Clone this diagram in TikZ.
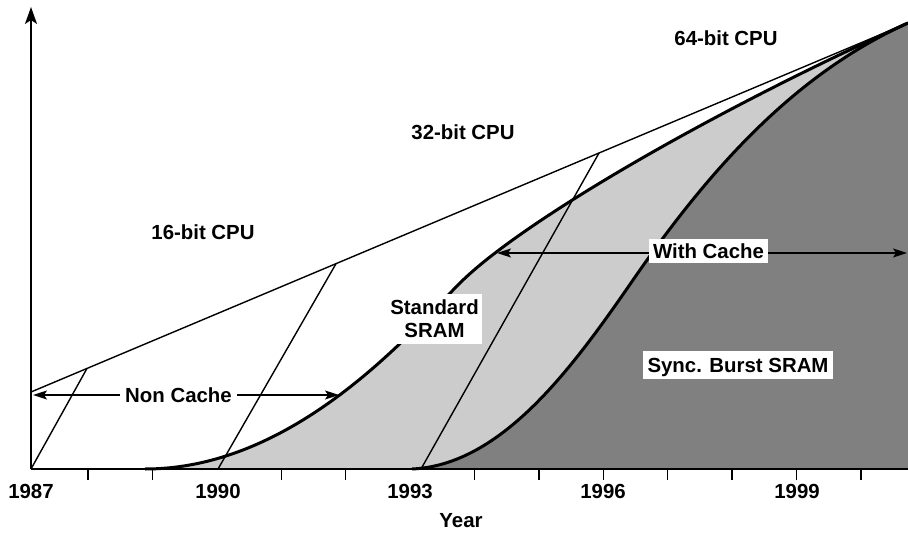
\documentclass[tikz,border=0pt]{standalone}
\usepackage{fontspec}
\setmainfont{Liberation Sans}
\usetikzlibrary{arrows.meta}
\definecolor{stdgray}{gray}{0.8}
\definecolor{syncgray}{gray}{0.5}
\begin{document}
\begin{tikzpicture}[x=0.5pt,y=-0.5pt,
  lbl/.style={font=\fontsize{10.2}{12}\selectfont\bfseries, inner sep=0pt},
  whitebox/.style={lbl, fill=white, text height=7.3pt, text depth=0pt},
  thinline/.style={line width=0.7pt},
  thickcurve/.style={line width=1.5pt},
  axisline/.style={line width=1pt},
  tickmark/.style={line width=0.7pt},
  span/.style={line width=0.7pt,
    {Stealth[length=7pt,width=4.5pt,inset=1.5pt]}-{Stealth[length=7pt,width=4.5pt,inset=1.5pt]}},
]
\useasboundingbox (0,0) rectangle (908,533);

% light grey area below the Standard SRAM curve
\fill[stdgray] (145,469) .. controls (295,469) and (410,333) .. (460,283)
  .. controls (520,223) and (708,113) .. (908,23) -- (908,469) -- cycle;

% CPU generation envelope and its dividing lines
\coordinate (e0) at (31,392);
\coordinate (e1) at (908,23);
\draw[thinline] (e0) -- (e1);
\coordinate (s1b) at (31,469);  \coordinate (s1t) at (87,368.4);
\coordinate (s2b) at (218,469); \coordinate (s2t) at (336,263.7);
\coordinate (s3b) at (421,469); \coordinate (s3t) at (599,153);
\draw[thinline] (s1b) -- (s1t);
\draw[thinline] (s2b) -- (s2t);
\draw[thinline] (s3b) -- (s3t);

% dark grey area below the Sync. Burst SRAM curve
\fill[syncgray] (412,469) .. controls (502,465) and (573,367) .. (633,280)
  .. controls (713,164) and (798,72.5) .. (908,23) -- (908,469) -- cycle;

% the two SRAM curves
\draw[thickcurve] (145,469) .. controls (295,469) and (410,333) .. (460,283)
  .. controls (520,223) and (708,113) .. (908,23);
\draw[thickcurve] (412,469) .. controls (502,465) and (573,367) .. (633,280)
  .. controls (713,164) and (798,72.5) .. (908,23);

% axes
\coordinate (o) at (31,469);
\coordinate (ytop) at (31,7);
\coordinate (xend) at (908,469);
\draw[axisline] (o) -- (xend);
\draw[axisline, -{Stealth[length=8.5pt,width=6pt,inset=2pt]}] (o) -- (ytop);

% year ticks
\foreach \tx in {88,152.4,281.2,345.6,474.4,538.8,603.2,667.6,732,796.4,860.8}
  \draw[tickmark] (\tx,469) -- (\tx,480);

% year labels
\node[lbl, anchor=base] (y1987) at (31,498) {1987};
\node[lbl, anchor=base] (y1990) at (218,498) {1990};
\node[lbl, anchor=base] (y1993) at (410,498) {1993};
\node[lbl, anchor=base] (y1996) at (603,498) {1996};
\node[lbl, anchor=base] (y1999) at (797,498) {1999};
\node[lbl, anchor=base] (xtitle) at (461,527) {Year};

% CPU generation labels
\node[lbl, anchor=base] (c16) at (203,240) {16-bit CPU};
\node[lbl, anchor=base] (c32) at (463,140) {32-bit CPU};
\node[lbl, anchor=base] (c64) at (726,46) {64-bit CPU};

% spans
\coordinate (nc0) at (33,395);
\coordinate (nc1) at (339,395);
\draw[span] (nc0) -- (nc1);
\node[whitebox, minimum width=58.5pt, minimum height=12pt] (nocache) at (178.5,395.5) {Non Cache};

\coordinate (wc0) at (497,253);
\coordinate (wc1) at (907,253);
\draw[span] (wc0) -- (wc1);
\node[whitebox, minimum width=59.5pt, minimum height=12pt] (withcache) at (708.5,251) {With Cache};

% SRAM labels
\node[lbl, fill=white, align=center, font=\fontsize{10.2}{11.5}\selectfont\bfseries,
      minimum width=47.5pt, minimum height=25pt] (stdsram) at (434.5,319) {Standard\\SRAM};
\node[whitebox, minimum width=95pt, minimum height=14pt] (syncsram) at (738,365) {Sync. Burst SRAM};
\end{tikzpicture}
\end{document}
